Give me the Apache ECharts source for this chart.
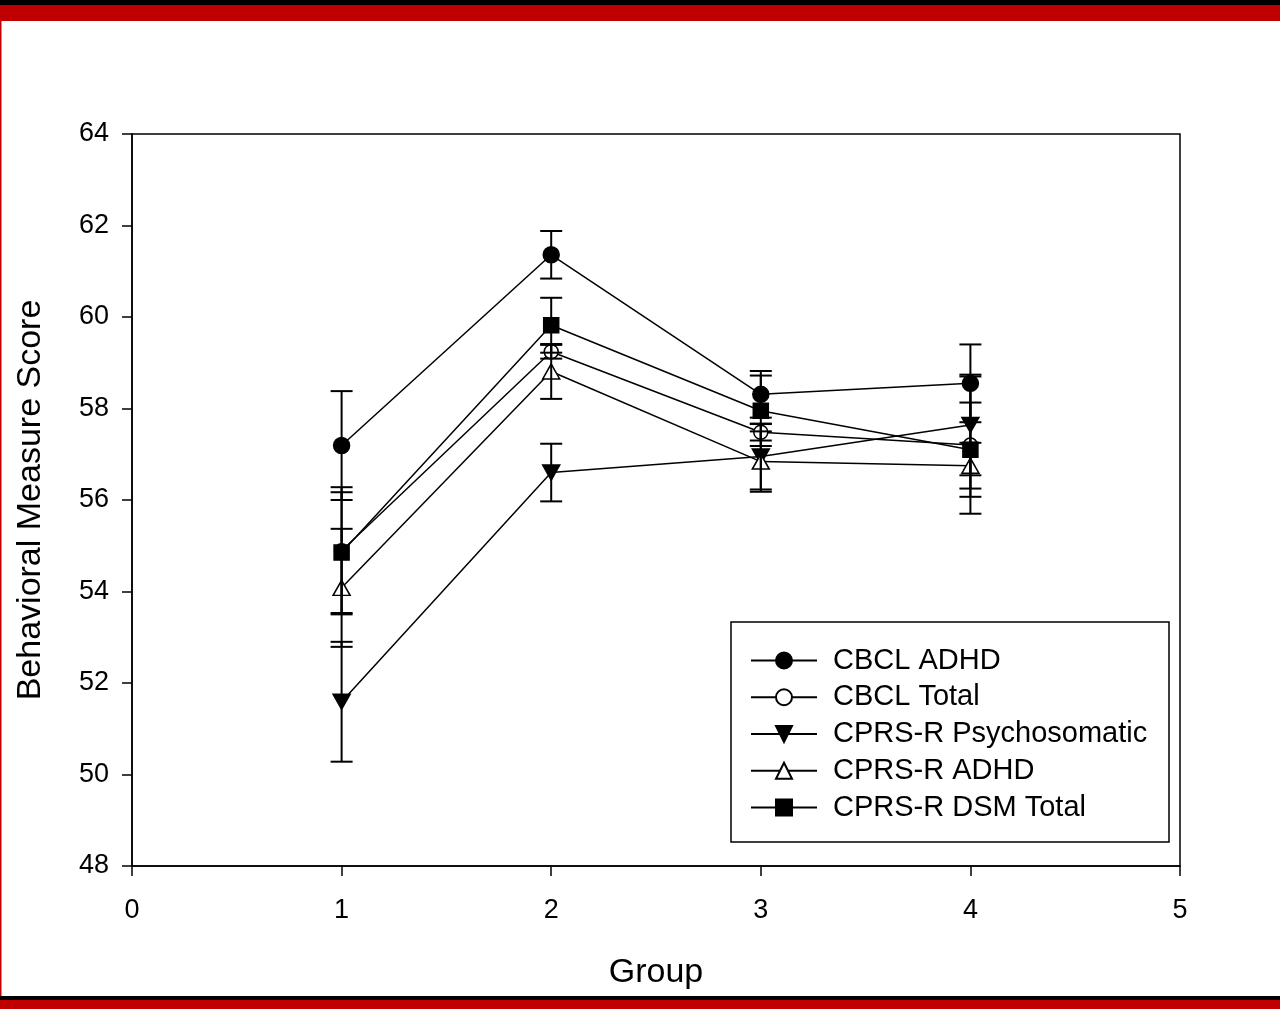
<!DOCTYPE html>
<html lang="en">
<head>
    <meta charset="UTF-8">
    <title>Behavioral Measure Score</title>
    <script src="https://cdn.jsdelivr.net/npm/echarts@6/dist/echarts.min.js"></script>
    <style>
        html, body { margin: 0; padding: 0; background: #fff; }
    </style>
</head>
<body>
    <div id="dv" style="width:1280px;height:1009px;"></div>
</body>
<script>
   // group means and standard errors
   var groups = [1, 2, 3, 4]
   var names = ['CBCL ADHD', 'CBCL Total', 'CPRS-R Psychosomatic', 'CPRS-R ADHD', 'CPRS-R DSM Total']
   var cbclAdhd = [57.19, 61.36, 58.31, 58.55]
   var cbclAdhdErr = [1.19, 0.52, 0.51, 0.85]
   var cbclTotal = [54.89, 59.24, 57.48, 57.2]
   var cbclTotalErr = [1.39, 0.15, 0.18, 1.5]
   var cprsPsycho = [51.59, 56.6, 56.95, 57.64]
   var cprsPsychoErr = [1.31, 0.63, 0.72, 1.1]
   var cprsAdhd = [54.08, 58.81, 56.84, 56.75]
   var cprsAdhdErr = [1.29, 0.6, 0.66, 0.5]
   var cprsDsm = [54.85, 59.82, 57.95, 57.1]
   var cprsDsmErr = [1.32, 0.6, 0.77, 1.03]

   var values = [cbclAdhd, cbclTotal, cprsPsycho, cprsAdhd, cprsDsm]
   var errors = [cbclAdhdErr, cbclTotalErr, cprsPsychoErr, cprsAdhdErr, cprsDsmErr]
   var downTri = 'path://M0,0 L10,0 L5,9 Z'
   var upTri = 'path://M5,0 L10,9 L0,9 Z'
   var marks = [
        {symbol: 'circle', size: 16, fill: '#000'},
        {symbol: 'circle', size: 14, fill: '#fff'},
        {symbol: downTri, size: [17, 15], fill: '#000'},
        {symbol: upTri, size: [17, 15], fill: '#fff'},
        {symbol: 'rect', size: 15, fill: '#000'}
   ]
   var font = 'Liberation Sans, Arial, sans-serif'

   var dv = document.getElementById('dv')
   var myChart = echarts.init(dv)

   var series = []
   names.forEach(function (n, i) {
        series.push({
            type: 'line',
            name: n,
            z: 2,
            symbol: marks[i].symbol,
            symbolSize: marks[i].size,
            itemStyle: {color: marks[i].fill, borderColor: '#000', borderWidth: 1.5, opacity: 1},
            lineStyle: {color: '#000', width: 1.5},
            emphasis: {disabled: true},
            data: groups.map(function (g, k) { return [g, values[i][k]] })
        })
   })
   names.forEach(function (n, i) {
        series.push({
            type: 'custom',
            z: 3,
            silent: true,
            encode: {x: 0, y: 1},
            data: groups.map(function (g, k) { return [g, values[i][k], errors[i][k]] }),
            renderItem: function (params, api) {
                var x = api.value(0), y = api.value(1), e = api.value(2)
                var hi = api.coord([x, y + e])
                var lo = api.coord([x, y - e])
                var w = 11
                var st = {stroke: '#000', lineWidth: 2}
                return {
                    type: 'group',
                    children: [
                        {type: 'line', shape: {x1: hi[0], y1: hi[1], x2: lo[0], y2: lo[1]}, style: st},
                        {type: 'line', shape: {x1: hi[0] - w, y1: hi[1], x2: hi[0] + w, y2: hi[1]}, style: st},
                        {type: 'line', shape: {x1: lo[0] - w, y1: lo[1], x2: lo[0] + w, y2: lo[1]}, style: st}
                    ]
                }
            }
        })
   })

   var option = {
        backgroundColor: '#fff',
        animation: false,
        grid: {
            left: 132,
            right: 100,
            top: 134,
            bottom: 143,
            show: true,
            borderColor: '#000',
            borderWidth: 1.5
        },
        xAxis: {
            type: 'value',
            min: 0,
            max: 5,
            interval: 1,
            name: 'Group',
            nameLocation: 'middle',
            nameGap: 90,
            nameTextStyle: {fontFamily: font, fontSize: 34, color: '#000'},
            axisLine: {lineStyle: {color: '#000', width: 1.5}},
            axisTick: {show: true, length: 10, lineStyle: {color: '#000', width: 1.5}},
            axisLabel: {fontFamily: font, fontSize: 27, color: '#000', margin: 31},
            splitLine: {show: false}
        },
        yAxis: {
            type: 'value',
            min: 48,
            max: 64,
            interval: 2,
            name: 'Behavioral Measure Score',
            nameLocation: 'middle',
            nameGap: 84,
            nameTextStyle: {fontFamily: font, fontSize: 34, color: '#000'},
            axisLine: {show: true, lineStyle: {color: '#000', width: 1.5}},
            axisTick: {show: true, length: 10, lineStyle: {color: '#000', width: 1.5}},
            axisLabel: {fontFamily: font, fontSize: 27, color: '#000', margin: 23},
            splitLine: {show: false}
        },
        legend: {
            orient: 'vertical',
            left: 745,
            top: 641,
            itemWidth: 66,
            itemHeight: 20,
            itemGap: 7.75,
            selectedMode: false,
            textStyle: {fontFamily: font, fontSize: 29, color: '#000', padding: [0, 0, 0, 11]},
            data: names
        },
        graphic: [
            {type: 'rect', shape: {x: 731, y: 622, width: 438, height: 220}, style: {fill: 'none', stroke: '#000', lineWidth: 1.5}, z: 1},
            {type: 'rect', shape: {x: 0, y: 0, width: 1280, height: 5}, style: {fill: '#000'}},
            {type: 'rect', shape: {x: 0, y: 5, width: 1280, height: 16}, style: {fill: '#c00000'}},
            {type: 'rect', shape: {x: 0, y: 21, width: 1.5, height: 976}, style: {fill: '#c00000'}},
            {type: 'rect', shape: {x: 0, y: 996, width: 1280, height: 4}, style: {fill: '#000'}},
            {type: 'rect', shape: {x: 0, y: 1000, width: 1280, height: 9}, style: {fill: '#c00000'}}
        ],
        series: series
   }
   myChart.setOption(option)
</script>
</html>
